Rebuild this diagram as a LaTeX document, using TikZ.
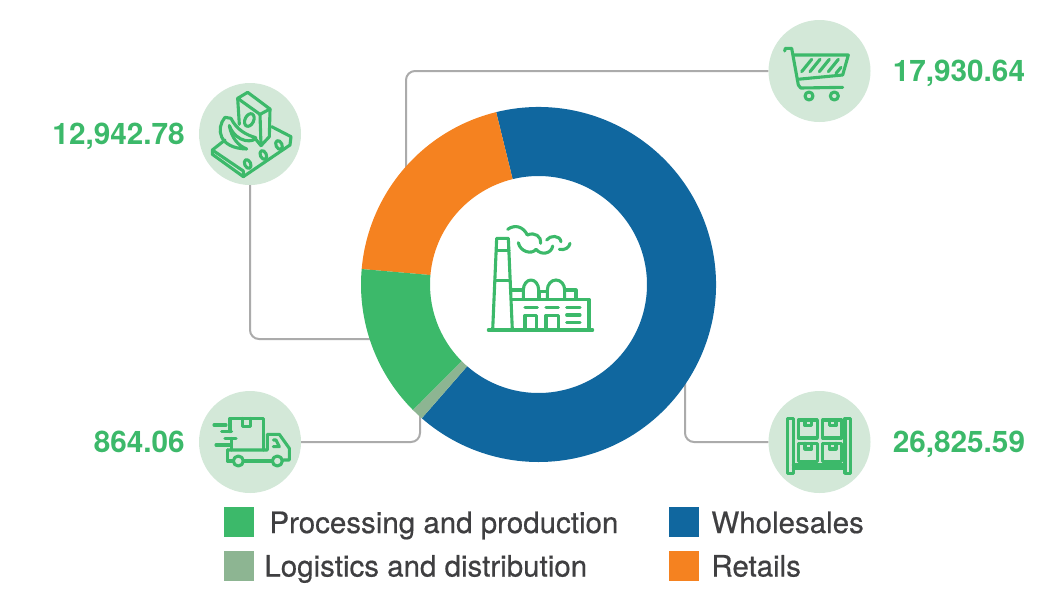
\documentclass[tikz,border=0pt]{standalone}
\usepackage{fontspec}
\setmainfont{TeX Gyre Heros}
\newfontfamily\entryfont[FakeBold=0.5]{TeX Gyre Heros}
\usetikzlibrary{positioning}
\definecolor{leafgreen}{HTML}{3CB96A}
\definecolor{palegreen}{HTML}{D3E8D8}
\definecolor{sagegreen}{HTML}{8DB592}
\definecolor{deepblue}{HTML}{10679F}
\definecolor{brightorange}{HTML}{F58220}
\definecolor{inkgrey}{HTML}{3F3F41}
\definecolor{wiregrey}{HTML}{ABABAB}

\begin{document}
\begin{tikzpicture}[x=1pt,y=-1pt,line join=round,line cap=round]
  \tikzstyle{disc}=[circle,fill=palegreen,minimum size=102pt,inner sep=0pt]
  \tikzstyle{amount}=[font=\fontsize{29.7}{34}\selectfont\bfseries,text=leafgreen,inner sep=0pt,text height=21pt,text depth=0pt]
  \tikzstyle{swatch}=[minimum size=30pt,inner sep=0pt]
  \tikzstyle{entry}=[font=\fontsize{29.5}{34}\selectfont\entryfont,text=inkgrey,inner sep=0pt,text height=28pt,text depth=6pt]
  \tikzstyle{link}=[draw=wiregrey,line width=2pt,rounded corners=9pt,line cap=butt]
  \tikzstyle{icon}=[draw=leafgreen,line width=3.1pt]
  \useasboundingbox (0,0) rectangle (1048,598);

  \node[disc] (food)      at (250,134)   {};
  \node[disc] (truck)     at (250,442)   {};
  \node[disc] (cart)      at (819.5,71)  {};
  \node[disc] (warehouse) at (819.5,442) {};

  \node[amount] (foodval)  [left=14pt of food]       {12,942.78};
  \node[amount] (truckval) [left=14pt of truck]      {864.06};
  \node[amount] (cartval)  [right=22pt of cart]      {17,930.64};
  \node[amount] (wareval)  [right=22pt of warehouse] {26,825.59};

  \coordinate (foodend)  at (380,339);
  \coordinate (truckend) at (420,400);
  \coordinate (cartend)  at (406,175);
  \coordinate (wareend)  at (685,380);

  \draw[link] (food) |- (foodend);
  \draw[link] (truck) -| (truckend);
  \draw[link] (cart) -| (cartend);
  \draw[link] (warehouse) -| (wareend);

  % ring
  \begin{scope}[shift={(538.5,284.5)}]
    \foreach \from/\to/\shade in {-103.8/131.1/deepblue,-175/-103.8/brightorange,-225/-175/leafgreen,-228.9/-225/sagegreen}
      \fill[\shade] (\from:177.5) arc (\from:\to:177.5) -- (\to:108.5) arc (\to:\from:108.5) -- cycle;
  \end{scope}

  % factory
  \begin{scope}[shift={(470,210)},scale=1/3]
    \draw[icon] (55,360) -- (368,360);
    \draw[icon] (68,360) -- (80,85) -- (115,85) -- (127,360);
    \draw[icon] (79,122) -- (117,122) (75,212) -- (120,212);
    \draw[icon] (127,268) -- (357,268) -- (357,360);
    \draw[icon] (122,240) -- (160,240) (207,245) -- (232,245) (207,245) -- (207,268);
    \draw[icon] (285,240) -- (318,240) -- (318,268);
    \draw[icon] (160,268) -- (160,240) arc (180:360:23 and 30) -- (206,268);
    \draw[icon] (232,268) -- (232,240) arc (180:360:26 and 30) -- (284,268);
    \draw[icon] (165,360) -- (165,316) -- (200,316) -- (200,360);
    \draw[icon] (228,360) -- (228,316) -- (265,316) -- (265,360);
    \draw[icon] (165,292) -- (202,292) (228,292) -- (265,292);
    \draw[icon] (290,292) -- (330,292) (290,315) -- (330,315) (290,338) -- (330,338);
    \draw[icon] (113,58) .. controls (135,42) and (160,50) .. (172,75);
    \draw[icon] (172,75) .. controls (195,65) and (215,80) .. (212,100);
    \draw[icon] (145,98) .. controls (150,125) and (185,135) .. (198,118);
    \draw[icon] (198,118) .. controls (215,138) and (245,130) .. (248,108);
    \draw[icon] (230,90) .. controls (240,75) and (270,75) .. (273,95);
    \draw[icon] (268,118) .. controls (285,122) and (298,112) .. (300,100);
  \end{scope}

  % food line
  \begin{scope}[shift={(205,85)},scale=1/3]
    \draw[icon] (98,40) -- (128,22) -- (195,72) -- (165,88) -- cycle;
    \draw[icon] (98,40) -- (103,118);
    \draw[icon] (165,88) -- (168,182) -- (193,155) -- (195,72);
    \draw[icon] (150,160) -- (168,182);
    \draw[icon,rotate around={-25:(133,105)}] (133,105) ellipse (13 and 20);
    \draw[icon] (78,100) -- (60,97) .. controls (32,130) and (40,190) .. (125,192)
      .. controls (100,182) and (80,160) .. (73,122);
    \draw[icon] (78,100) .. controls (95,135) and (125,150) .. (152,158)
      .. controls (150,172) and (95,178) .. (73,122);
    \draw[icon] (60,165) -- (22,195) -- (22,208) -- (115,275) -- (255,180) -- (258,155) -- (200,125);
    \draw[icon] (22,195) -- (115,258) -- (115,275);
    \draw[icon,rotate around={25:(128,237)}] (128,237) ellipse (9 and 14);
    \draw[icon,rotate around={25:(175,210)}] (175,210) ellipse (9 and 14);
    \draw[icon,rotate around={25:(222,180)}] (222,180) ellipse (9 and 14);
  \end{scope}

  % delivery truck
  \begin{scope}[shift={(190,385)},scale=1/3]
    \draw[icon] (120,140) -- (120,100) -- (220,100) -- (220,195);
    \draw[icon] (158,100) -- (158,125) -- (182,125) -- (182,100);
    \draw[icon] (72,120) -- (108,120) (95,140) -- (125,140) (105,160) -- (138,160) (78,180) -- (122,180);
    \draw[icon] (125,160) -- (125,195);
    \draw[icon] (112,195) -- (232,195) -- (232,148) -- (268,148) -- (298,190) -- (298,225) -- (280,225);
    \draw[icon] (250,165) -- (258,165) -- (268,185) -- (250,185);
    \draw[icon] (112,195) -- (112,228) -- (128,228);
    \draw[icon] (162,228) -- (245,228);
    \draw[icon] (145,228) circle (15);
    \draw[icon] (262,228) circle (15);
  \end{scope}

  % shopping cart
  \begin{scope}[shift={(760,10)},scale=1/3]
    \draw[icon] (74,123) -- (76,115) -- (95,115) -- (115,225) -- (122,234) -- (248,232);
    \draw[icon] (102,135) -- (265,135) -- (248,195) -- (112,208);
    \foreach \hx in {125,150,178,205}
      \draw[icon] (\hx,185) -- (\hx+30,148);
    \draw[icon] (228,190) -- (243,172);
    \draw[icon] (147,258) circle (12);
    \draw[icon] (223,258) circle (12);
  \end{scope}

  % storage rack
  \begin{scope}[shift={(760,385)},scale=1/3]
    \draw[icon] (82,100) rectangle (100,265);
    \draw[icon] (255,100) rectangle (272,265);
    \draw[icon] (100,240) -- (255,240) (100,250) -- (255,250);
    \foreach \bx/\by in {115/105,188/105,115/175,188/175} {
      \draw[icon] (\bx,\by) rectangle (\bx+57,\by+54);
      \draw[icon] (\bx+20,\by) -- (\bx+20,\by+17) -- (\bx+40,\by+17) -- (\bx+40,\by);
    }
  \end{scope}

  \node[swatch,fill=leafgreen]    (procbox) at (239,522)   {};
  \node[swatch,fill=sagegreen]    (logibox) at (239,565.5) {};
  \node[swatch,fill=deepblue]     (wholbox) at (684,522)   {};
  \node[swatch,fill=brightorange] (retabox) at (684,565.5) {};

  \node[entry] (procname) [right=15pt of procbox] {Processing and production};
  \node[entry] (loginame) [right=10pt of logibox] {Logistics and distribution};
  \node[entry] (wholname) [right=12pt of wholbox] {Wholesales};
  \node[entry] (retaname) [right=12pt of retabox] {Retails};
\end{tikzpicture}
\end{document}
